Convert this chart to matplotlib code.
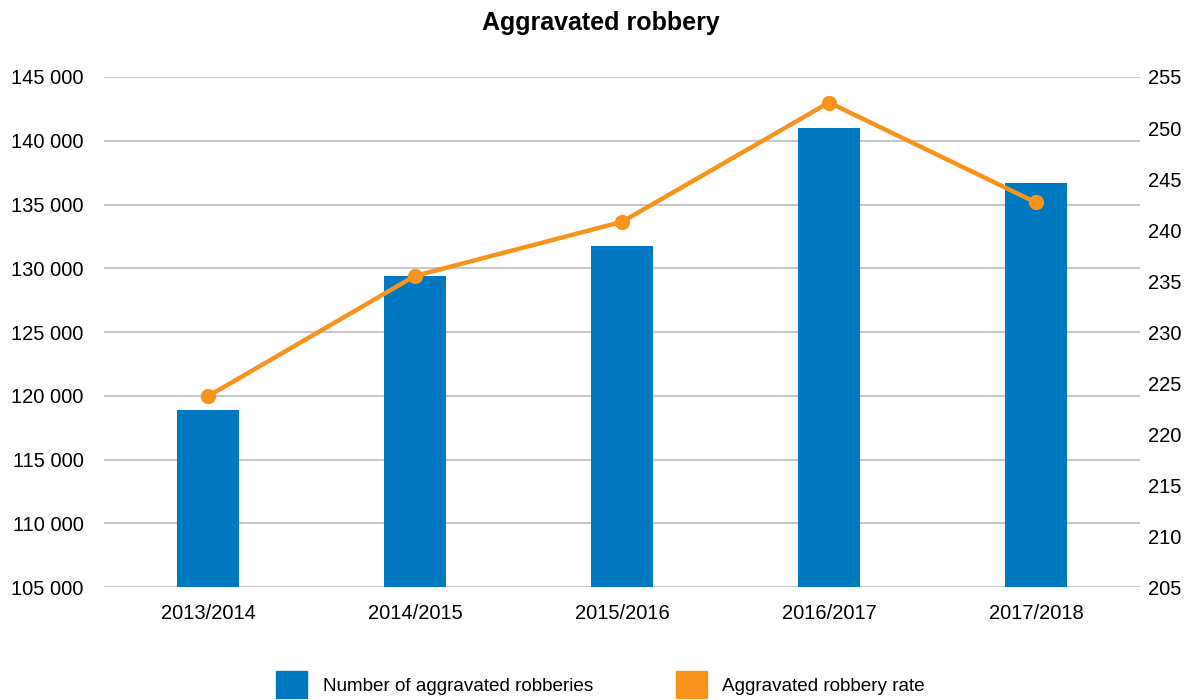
import numpy as np
import matplotlib
matplotlib.use("Agg")
import matplotlib.pyplot as plt
from matplotlib.patches import Patch
from matplotlib.ticker import FuncFormatter

plt.rcParams['font.family'] = ['Liberation Sans Narrow', 'Liberation Sans', 'DejaVu Sans']

# data
years = ["2013/2014", "2014/2015", "2015/2016", "2016/2017", "2017/2018"]
robberies = [118850, 129400, 131750, 141000, 136700]
rate = [223.7, 235.5, 240.8, 252.5, 242.7]

blue = "#0079c1"
orange = "#f7941d"
grid_col = "#c8c8c8"

fig = plt.figure(figsize=(12.01, 7.0), dpi=100)
ax = fig.add_axes([0.087, 0.1614, 0.8618, 0.7286])
x = np.arange(len(years))

ax.bar(x, robberies, width=0.295, color=blue, zorder=2)
ax.set_ylim(105000, 145000)
ax.set_yticks(np.arange(105000, 145001, 5000))
ax.yaxis.set_major_formatter(FuncFormatter(lambda v, p: f"{int(v):,}".replace(",", " ")))
ax.set_xlim(-0.5, len(years) - 0.5)
ax.set_xticks(x)
ax.set_xticklabels(years)
ax.grid(axis='y', color=grid_col, linewidth=1.5, zorder=0)
ax.set_axisbelow(True)
for s in ax.spines.values():
    s.set_visible(False)
ax.tick_params(axis='y', length=0, pad=15, labelsize=14.5)
ax.tick_params(axis='x', length=0, pad=12, labelsize=14.5)

ax2 = ax.twinx()
ax2.plot(x, rate, color=orange, linewidth=3.2, marker='o', markersize=10, zorder=3)
ax2.set_ylim(205, 255)
ax2.set_yticks(np.arange(205, 256, 5))
for s in ax2.spines.values():
    s.set_visible(False)
ax2.tick_params(axis='y', length=0, pad=6, labelsize=14.5)

fig.text(0.5, 0.967, "Aggravated robbery", ha='center', va='center',
         fontsize=18, fontweight='bold', family=['Liberation Sans', 'DejaVu Sans'])

handles = [Patch(color=blue), Patch(color=orange)]
fig.legend(handles, ["Number of aggravated robberies", "Aggravated robbery rate"],
           loc='center', bbox_to_anchor=(0.5, 0.022), ncol=2, frameon=False,
           fontsize=13.6, handlelength=1.65, handleheight=1.8, handletextpad=0.8,
           columnspacing=4.4)

fig.savefig("out.png", dpi=100)
